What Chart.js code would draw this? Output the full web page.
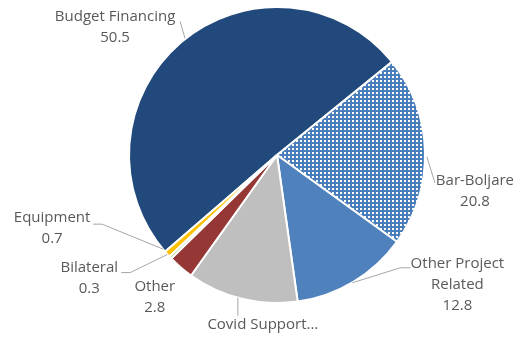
<!DOCTYPE html>
<html lang="en">
<head>
    <meta charset="UTF-8">
    <title>Financing Breakdown</title>
    <script src="https://cdn.jsdelivr.net/npm/chart.js"></script>
    <style>
        html, body { margin: 0; padding: 0; background: #fff; }
        #wrap { width: 513px; height: 337px; }
    </style>
</head>
<body>
<div id="wrap"><canvas id="pieChart" width="513" height="337"></canvas></div>

<script>
    // Slice data
    const categories = ['Budget Financing', 'Bar-Boljare', 'Other Project Related',
                        'Covid Support', 'Other', 'Bilateral', 'Equipment'];
    const values = [50.5, 20.8, 12.8, 12.1, 2.8, 0.3, 0.7];
    // Text shown next to each slice (Covid label is cut short, without value)
    const labelLines = [
        ['Budget Financing', '50.5'],
        ['Bar-Boljare', '20.8'],
        ['Other Project', 'Related', '12.8'],
        ['Covid Support...'],
        ['Other', '2.8'],
        ['Bilateral', '0.3'],
        ['Equipment', '0.7']
    ];

    // Dotted fill for the Bar-Boljare slice
    function dotPattern(base) {
        const c = document.createElement('canvas');
        c.width = 4; c.height = 4;
        const g = c.getContext('2d');
        g.fillStyle = base;
        g.fillRect(0, 0, 4, 4);
        g.fillStyle = '#ffffff';
        g.fillRect(0, 0, 2, 2);
        return g.createPattern(c, 'repeat');
    }
    const ctx = document.getElementById('pieChart').getContext('2d');
    const sliceColors = ['#21497c', dotPattern('#4a7ebb'), '#4f81bd', '#bfbfbf',
                         '#953735', '#9bbb59', '#ffc000'];

    // Where each label sits, measured from the slice's outer mid point
    const labelPlacement = [
        { text: [-67, -14.5], lead: [[3, -3], [-2, -20]] },
        { text: [50, 40], lead: [[2, 6], [10, 32]] },
        { text: [104, 3], lead: [[-1, 1], [47, -14], [57, -14]] },
        { text: [21, 26], lead: [[-4, -1], [-4, 17]] },
        { text: [-26, 30], lead: [] },
        { text: [-81, 21], lead: [[-3, -3], [-40, 15], [-49, 15]] },
        { text: [-115, -25.5], lead: [[-4, -5], [-65, -30], [-74, -30]] }
    ];

    const sliceLabels = {
        id: 'sliceLabels',
        afterDatasetsDraw(chart) {
            const c = chart.ctx;
            const arcs = chart.getDatasetMeta(0).data;
            c.save();
            c.font = '15px "Open Sans", sans-serif';
            c.fillStyle = '#595959';
            c.textAlign = 'center';
            c.textBaseline = 'middle';
            c.strokeStyle = '#a6a6a6';
            c.lineWidth = 1;
            arcs.forEach((arc, i) => {
                const p = arc.getProps(['x', 'y', 'startAngle', 'endAngle', 'outerRadius'], true);
                const mid = (p.startAngle + p.endAngle) / 2;
                const ex = p.x + Math.cos(mid) * p.outerRadius;
                const ey = p.y + Math.sin(mid) * p.outerRadius;
                const place = labelPlacement[i];
                if (place.lead.length) {
                    c.beginPath();
                    place.lead.forEach(([dx, dy], k) => {
                        if (k === 0) c.moveTo(ex + dx, ey + dy);
                        else c.lineTo(ex + dx, ey + dy);
                    });
                    c.stroke();
                }
                const lines = labelLines[i];
                const lh = 21;
                const tx = ex + place.text[0];
                const ty = ey + place.text[1] - (lines.length - 1) * lh / 2;
                lines.forEach((t, k) => c.fillText(t, tx, ty + k * lh));
            });
            c.restore();
        }
    };

    new Chart(ctx, {
        type: 'pie',
        data: {
            labels: categories,
            datasets: [{
                data: values,
                backgroundColor: sliceColors,
                borderColor: '#ffffff',
                borderWidth: 2,
                hoverOffset: 0
            }]
        },
        options: {
            responsive: false,
            animation: false,
            rotation: -130.8,
            radius: 148,
            layout: { padding: { left: 129, right: 88, top: 7, bottom: 34 } },
            plugins: {
                legend: { display: false },
                tooltip: { enabled: false }
            }
        },
        plugins: [sliceLabels]
    });
</script>
</body>
</html>
